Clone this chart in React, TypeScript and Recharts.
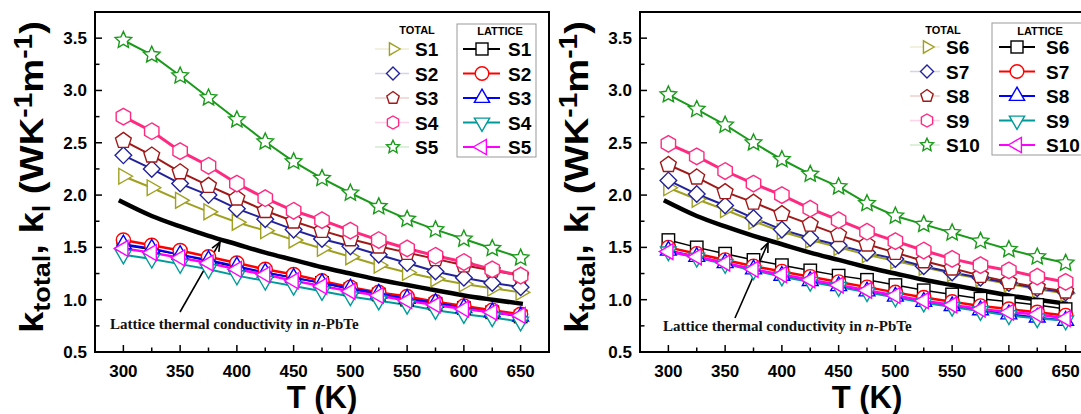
import React from 'react';
import { LineChart, Line, XAxis, YAxis, ReferenceArea } from 'recharts';

// temperatures (K)
const temps = [300, 325, 350, 375, 400, 425, 450, 475, 500, 525, 550, 575, 600, 625, 650];

// left panel - total thermal conductivity
const totS1 = [2.18, 2.07, 1.95, 1.84, 1.74, 1.66, 1.57, 1.49, 1.41, 1.33, 1.26, 1.20, 1.15, 1.11, 1.07];
const totS2 = [2.38, 2.25, 2.11, 2.00, 1.87, 1.77, 1.67, 1.58, 1.51, 1.43, 1.35, 1.27, 1.21, 1.16, 1.12];
const totS3 = [2.52, 2.38, 2.22, 2.09, 1.97, 1.85, 1.75, 1.66, 1.58, 1.51, 1.45, 1.39, 1.33, 1.28, 1.23];
const totS4 = [2.75, 2.61, 2.42, 2.28, 2.11, 1.97, 1.85, 1.76, 1.66, 1.57, 1.49, 1.42, 1.36, 1.29, 1.23];
const totS5 = [3.48, 3.34, 3.14, 2.93, 2.72, 2.51, 2.32, 2.16, 2.02, 1.89, 1.77, 1.67, 1.58, 1.49, 1.40];

// left panel - lattice
const latS1 = [1.52, 1.48, 1.43, 1.37, 1.31, 1.26, 1.21, 1.16, 1.10, 1.05, 1.00, 0.96, 0.92, 0.88, 0.84];
const latS2 = [1.57, 1.52, 1.47, 1.41, 1.35, 1.29, 1.24, 1.18, 1.12, 1.07, 1.03, 0.98, 0.94, 0.90, 0.86];
const latS3 = [1.53, 1.49, 1.43, 1.38, 1.32, 1.26, 1.21, 1.16, 1.11, 1.06, 1.01, 0.97, 0.92, 0.88, 0.84];
const latS4 = [1.43, 1.39, 1.34, 1.29, 1.23, 1.18, 1.13, 1.08, 1.03, 0.99, 0.95, 0.90, 0.86, 0.83, 0.79];
const latS5 = [1.49, 1.45, 1.40, 1.35, 1.29, 1.24, 1.18, 1.13, 1.08, 1.04, 0.99, 0.95, 0.91, 0.88, 0.85];

// right panel - total
const totS6 = [2.07, 1.96, 1.86, 1.75, 1.65, 1.57, 1.50, 1.43, 1.37, 1.31, 1.25, 1.20, 1.15, 1.10, 1.06];
const totS7 = [2.14, 2.01, 1.90, 1.78, 1.67, 1.59, 1.52, 1.45, 1.39, 1.32, 1.26, 1.21, 1.16, 1.11, 1.07];
const totS8 = [2.29, 2.17, 2.03, 1.93, 1.82, 1.72, 1.62, 1.53, 1.45, 1.37, 1.30, 1.23, 1.17, 1.12, 1.08];
const totS9 = [2.49, 2.37, 2.23, 2.11, 2.00, 1.87, 1.76, 1.65, 1.56, 1.47, 1.39, 1.33, 1.28, 1.22, 1.17];
const totS10 = [2.96, 2.82, 2.67, 2.50, 2.34, 2.20, 2.08, 1.92, 1.80, 1.72, 1.64, 1.56, 1.48, 1.41, 1.35];

// right panel - lattice
const latS6 = [1.57, 1.50, 1.44, 1.38, 1.33, 1.28, 1.23, 1.19, 1.14, 1.09, 1.05, 1.01, 0.98, 0.95, 0.91];
const latS7 = [1.50, 1.44, 1.38, 1.32, 1.27, 1.22, 1.17, 1.12, 1.07, 1.02, 0.98, 0.94, 0.91, 0.88, 0.85];
const latS8 = [1.47, 1.41, 1.35, 1.29, 1.23, 1.18, 1.13, 1.08, 1.03, 0.98, 0.94, 0.90, 0.86, 0.83, 0.80];
const latS9 = [1.46, 1.40, 1.34, 1.28, 1.22, 1.17, 1.12, 1.07, 1.02, 0.97, 0.93, 0.89, 0.85, 0.82, 0.80];
const latS10 = [1.46, 1.41, 1.35, 1.29, 1.24, 1.19, 1.14, 1.09, 1.04, 0.99, 0.95, 0.91, 0.88, 0.86, 0.82];

// reference curve: lattice thermal conductivity in n-PbTe
const pbteT = [296, 325, 350, 375, 400, 425, 450, 475, 500, 525, 550, 575, 600, 625, 652];
const pbteK = [1.95, 1.80, 1.70, 1.61, 1.53, 1.45, 1.38, 1.31, 1.25, 1.19, 1.14, 1.09, 1.04, 1.00, 0.96];

const xTicks = [300, 325, 350, 375, 400, 425, 450, 475, 500, 525, 550, 575, 600, 625, 650];
const yTicks = [0.5, 0.75, 1, 1.25, 1.5, 1.75, 2, 2.25, 2.5, 2.75, 3, 3.25, 3.5];

const FONT = '"Liberation Sans", Arial, Helvetica, sans-serif';
const SERIF = '"Liberation Serif", "Times New Roman", serif';

type Shape = 'square' | 'circle' | 'up' | 'down' | 'left' | 'right' | 'diamond' | 'pentagon' | 'hexagon' | 'star';

interface Series {
  key: string;
  name: string;
  color: string;
  shape: Shape;
  width: number;
  values: number[];
}

const poly = (cx: number, cy: number, r: number, n: number, start: number, inner = 0) => {
  const pts: string[] = [];
  const count = inner ? n * 2 : n;
  for (let i = 0; i < count; i++) {
    const a = ((start + (360 / count) * i) * Math.PI) / 180;
    const rr = inner && i % 2 === 1 ? inner : r;
    pts.push(`${(cx + rr * Math.cos(a)).toFixed(2)},${(cy + rr * Math.sin(a)).toFixed(2)}`);
  }
  return pts.join(' ');
};

const Marker = ({ shape, cx, cy, s, color, sw = 1.4 }: { shape: Shape; cx: number; cy: number; s: number; color: string; sw?: number }) => {
  const st = { fill: '#fff', stroke: color, strokeWidth: sw };
  switch (shape) {
    case 'square':
      return <rect x={cx - s * 0.75} y={cy - s * 0.75} width={s * 1.5} height={s * 1.5} {...st} />;
    case 'circle':
      return <circle cx={cx} cy={cy} r={s * 0.85} {...st} />;
    case 'up':
      return <polygon points={poly(cx, cy, s * 1.1, 3, -90)} {...st} />;
    case 'down':
      return <polygon points={poly(cx, cy, s * 1.1, 3, 90)} {...st} />;
    case 'left':
      return <polygon points={poly(cx, cy, s * 1.1, 3, 180)} {...st} />;
    case 'right':
      return <polygon points={poly(cx, cy, s * 1.1, 3, 0)} {...st} />;
    case 'diamond':
      return <polygon points={poly(cx, cy, s, 4, -90)} {...st} />;
    case 'pentagon':
      return <polygon points={poly(cx, cy, s, 5, -90)} {...st} />;
    case 'hexagon':
      return <polygon points={poly(cx, cy, s, 6, -90)} {...st} />;
    case 'star':
      return <polygon points={poly(cx, cy, s * 1.05, 5, -90, s * 0.5)} {...st} />;
  }
  return null;
};

const YTick = (p: any) => {
  const v = p.payload.value;
  const major = Math.abs(v * 2 - Math.round(v * 2)) < 1e-6;
  const ax = p.x + 8;
  return (
    <g>
      <line x1={ax} x2={ax + (major ? 7 : 4.5)} y1={p.y} y2={p.y} stroke="#000" strokeWidth={1.5} />
      {major && (
        <text x={p.x} y={p.y} dy={6} textAnchor="end" fontFamily={FONT} fontWeight="bold" fontSize={17} fill="#000">
          {v.toFixed(1)}
        </text>
      )}
    </g>
  );
};

const XTick = (p: any) => {
  const v = p.payload.value;
  const major = v % 50 === 0;
  const ay = p.y - 8;
  return (
    <g>
      <line x1={p.x} x2={p.x} y1={ay} y2={ay - (major ? 7 : 4.5)} stroke="#000" strokeWidth={1.5} />
      {major && (
        <text x={p.x} y={ay + 24.5} textAnchor="middle" fontFamily={FONT} fontWeight="bold" fontSize={17} fill="#000">
          {v}
        </text>
      )}
    </g>
  );
};

interface LegendLayout {
  totTitleX: number;
  totLine: [number, number];
  totMarkerX: number;
  totLabelX: number;
  rowY0: number;
  rowStep: number;
  box: [number, number, number, number];
  latTitleX: number;
  latLine: [number, number];
  latMarkerX: number;
  latLabelX: number;
}

interface Note {
  x: number;
  y: number;
  from: [number, number];
  to: [number, number];
}

const Panel = ({ left, totals, lattice, lg, note }: { left: number; totals: Series[]; lattice: Series[]; lg: LegendLayout; note: Note }) => {
  const rows = temps.map((T, i) => {
    const r: any = { T };
    [...totals, ...lattice].forEach((s) => (r[s.key] = s.values[i]));
    return r;
  });
  const pbteRows = pbteT.map((T, i) => ({ T, k: pbteK[i] }));

  const ang = Math.atan2(note.to[1] - note.from[1], note.to[0] - note.from[0]);
  const head = (d: number) => [note.to[0] - 10 * Math.cos(ang + d), note.to[1] - 10 * Math.sin(ang + d)];
  const h1 = head(0.4);
  const h2 = head(-0.4);

  return (
    <div style={{ position: 'absolute', left, top: 0 }}>
      <LineChart width={560} height={414} data={rows} margin={{ top: 12, right: 11, bottom: 0, left: 0 }}>
        <XAxis
          dataKey="T"
          type="number"
          domain={[275, 675]}
          ticks={xTicks}
          interval={0}
          allowDataOverflow
          height={62}
          tickSize={0}
          tickMargin={8}
          tickLine={false}
          axisLine={{ stroke: '#000', strokeWidth: 2 }}
          tick={(p: any) => <XTick {...p} />}
        />
        <YAxis
          type="number"
          domain={[0.5, 3.75]}
          ticks={yTicks}
          interval={0}
          allowDataOverflow
          width={95}
          tickSize={0}
          tickMargin={8}
          tickLine={false}
          axisLine={{ stroke: '#000', strokeWidth: 2 }}
          tick={(p: any) => <YTick {...p} />}
        />
        <ReferenceArea x1={275} x2={675} y1={0.5} y2={3.75} fill="none" fillOpacity={0} stroke="#000" strokeWidth={2} />
        <Line
          data={pbteRows}
          dataKey="k"
          type="monotone"
          stroke="#000"
          strokeWidth={4.5}
          dot={false}
          isAnimationActive={false}
        />
        {totals.map((s) => (
          <Line
            key={s.key}
            dataKey={s.key}
            stroke={s.color}
            strokeWidth={s.width}
            isAnimationActive={false}
            dot={(p: any) => <Marker key={`${s.key}-${p.index}`} shape={s.shape} cx={p.cx} cy={p.cy} s={8.3} color={s.color} />}
          />
        ))}
        {lattice.map((s) => (
          <Line
            key={s.key}
            dataKey={s.key}
            stroke={s.color}
            strokeWidth={s.width}
            isAnimationActive={false}
            dot={(p: any) => <Marker key={`${s.key}-${p.index}`} shape={s.shape} cx={p.cx} cy={p.cy} s={8.3} color={s.color} />}
          />
        ))}

        {/* annotation */}
        <text x={note.x} y={note.y} fontFamily={SERIF} fontWeight="bold" fontSize={15} fill="#111">
          Lattice thermal conductivity in <tspan fontStyle="italic">n</tspan>-PbTe
        </text>
        <line x1={note.from[0]} y1={note.from[1]} x2={note.to[0]} y2={note.to[1]} stroke="#000" strokeWidth={1.6} />
        <polyline points={`${h1[0]},${h1[1]} ${note.to[0]},${note.to[1]} ${h2[0]},${h2[1]}`} fill="none" stroke="#000" strokeWidth={1.6} />

        {/* axis titles */}
        <text
          transform="translate(43,177) rotate(-90)"
          textAnchor="middle"
          fontFamily={FONT}
          fontWeight="bold"
          fontSize={34}
          textLength={312}
          lengthAdjust="spacingAndGlyphs"
          fill="#000"
        >
          k<tspan fontSize={24} dy={7}>total</tspan>
          <tspan dy={-7}>, k</tspan>
          <tspan fontSize={24} dy={7}>l</tspan>
          <tspan dy={-7}> (WK</tspan>
          <tspan fontSize={25} dy={-11}>-1</tspan>
          <tspan dy={11}>m</tspan>
          <tspan fontSize={25} dy={-11}>-1</tspan>
          <tspan dy={11}>)</tspan>
        </text>
        <text x={322} y={408} textAnchor="middle" fontFamily={FONT} fontWeight="bold" fontSize={31} fill="#000">
          T (K)
        </text>

        {/* legend */}
        <text x={lg.totTitleX} y={34} textAnchor="middle" fontFamily={FONT} fontWeight="bold" fontSize={11} fill="#000">
          TOTAL
        </text>
        {totals.map((s, i) => {
          const y = lg.rowY0 + i * lg.rowStep;
          return (
            <g key={`lt-${s.key}`}>
              <line x1={lg.totLine[0]} x2={lg.totLine[1]} y1={y} y2={y} stroke={s.color} strokeOpacity={0.2} strokeWidth={1.5} />
              <Marker shape={s.shape} cx={lg.totMarkerX} cy={y} s={6.5} color={s.color} />
              <text x={lg.totLabelX} y={y + 7} fontFamily={FONT} fontWeight="bold" fontSize={19} fill="#000">
                {s.name}
              </text>
            </g>
          );
        })}
        <rect x={lg.box[0]} y={lg.box[1]} width={lg.box[2]} height={lg.box[3]} fill="none" stroke="#999" strokeWidth={1} />
        <text x={lg.latTitleX} y={35} textAnchor="middle" fontFamily={FONT} fontWeight="bold" fontSize={11} fill="#000">
          LATTICE
        </text>
        {lattice.map((s, i) => {
          const y = lg.rowY0 + i * lg.rowStep;
          return (
            <g key={`ll-${s.key}`}>
              <line x1={lg.latLine[0]} x2={lg.latLine[1]} y1={y} y2={y} stroke={s.color} strokeWidth={2} />
              <Marker shape={s.shape} cx={lg.latMarkerX} cy={y} s={8} color={s.color} />
              <text x={lg.latLabelX} y={y + 7} fontFamily={FONT} fontWeight="bold" fontSize={19} fill="#000">
                {s.name}
              </text>
            </g>
          );
        })}
      </LineChart>
    </div>
  );
};

const OLIVE = '#a0a020';
const NAVY = '#22229a';
const DARKRED = '#a01818';
const PINK = '#ff2a80';
const GREEN = '#1a9a1a';

const leftTotals: Series[] = [
  { key: 't1', name: 'S1', color: OLIVE, shape: 'right', width: 2, values: totS1 },
  { key: 't2', name: 'S2', color: NAVY, shape: 'diamond', width: 2, values: totS2 },
  { key: 't3', name: 'S3', color: DARKRED, shape: 'pentagon', width: 2, values: totS3 },
  { key: 't4', name: 'S4', color: PINK, shape: 'hexagon', width: 3, values: totS4 },
  { key: 't5', name: 'S5', color: GREEN, shape: 'star', width: 2, values: totS5 },
];
const leftLattice: Series[] = [
  { key: 'l1', name: 'S1', color: '#000000', shape: 'square', width: 1.5, values: latS1 },
  { key: 'l2', name: 'S2', color: '#ff0000', shape: 'circle', width: 2.5, values: latS2 },
  { key: 'l3', name: 'S3', color: '#0000ff', shape: 'up', width: 2, values: latS3 },
  { key: 'l4', name: 'S4', color: '#009a9a', shape: 'down', width: 2, values: latS4 },
  { key: 'l5', name: 'S5', color: '#ff00ff', shape: 'left', width: 2.5, values: latS5 },
];
const rightTotals: Series[] = [
  { key: 't6', name: 'S6', color: OLIVE, shape: 'right', width: 2, values: totS6 },
  { key: 't7', name: 'S7', color: NAVY, shape: 'diamond', width: 2, values: totS7 },
  { key: 't8', name: 'S8', color: DARKRED, shape: 'pentagon', width: 2, values: totS8 },
  { key: 't9', name: 'S9', color: PINK, shape: 'hexagon', width: 3, values: totS9 },
  { key: 't10', name: 'S10', color: GREEN, shape: 'star', width: 2, values: totS10 },
];
const rightLattice: Series[] = [
  { key: 'l6', name: 'S6', color: '#000000', shape: 'square', width: 1.5, values: latS6 },
  { key: 'l7', name: 'S7', color: '#ff0000', shape: 'circle', width: 2.5, values: latS7 },
  { key: 'l8', name: 'S8', color: '#0000ff', shape: 'up', width: 2, values: latS8 },
  { key: 'l9', name: 'S9', color: '#009a9a', shape: 'down', width: 2, values: latS9 },
  { key: 'l10', name: 'S10', color: '#ff00ff', shape: 'left', width: 2.5, values: latS10 },
];

const leftLegend: LegendLayout = {
  totTitleX: 417,
  totLine: [375, 409],
  totMarkerX: 393,
  totLabelX: 415,
  rowY0: 49,
  rowStep: 24.5,
  box: [457, 24, 79, 133],
  latTitleX: 500,
  latLine: [463, 500],
  latMarkerX: 482,
  latLabelX: 508,
};
const rightLegend: LegendLayout = {
  totTitleX: 398,
  totLine: [365, 395],
  totMarkerX: 382,
  totLabelX: 401,
  rowY0: 47,
  rowStep: 24.5,
  box: [447, 23, 100, 132],
  latTitleX: 495,
  latLine: [454, 490],
  latMarkerX: 472,
  latLabelX: 501,
};

export default function App() {
  return (
    <div style={{ position: 'absolute', left: 0, top: 0, width: 1081, height: 414, overflow: 'hidden', background: '#fff' }}>
      <Panel
        left={0}
        totals={leftTotals}
        lattice={leftLattice}
        lg={leftLegend}
        note={{ x: 110, y: 329, from: [180, 312], to: [220, 242] }}
      />
      <Panel
        left={545}
        totals={rightTotals}
        lattice={rightLattice}
        lg={rightLegend}
        note={{ x: 118, y: 331, from: [190, 318], to: [223, 243] }}
      />
    </div>
  );
}
